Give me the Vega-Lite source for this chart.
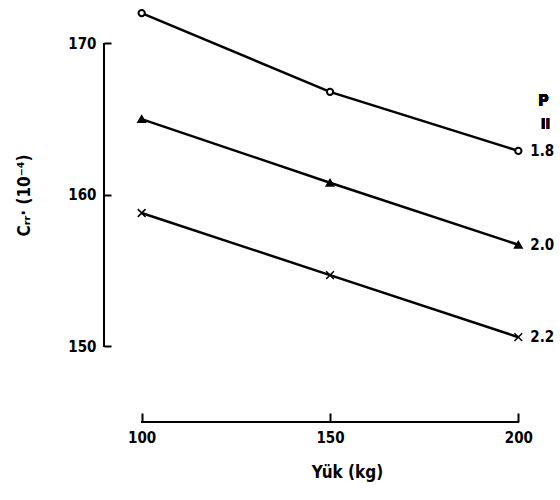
{
  "$schema": "https://vega.github.io/schema/vega-lite/v6.json",
  "autosize": {"type": "none"},
  "padding": {"left": 104, "top": 4, "right": 4, "bottom": 78},
  "width": 452,
  "height": 418,
  "background": "white",
  "config": {
    "view": {"stroke": null},
    "font": "DejaVu Sans Condensed",
    "axis": {"grid": false, "domain": false, "tickColor": "black", "tickWidth": 2, "labelColor": "black", "labelFont": "DejaVu Sans Condensed", "labelFontWeight": "bold", "labelFontSize": 15, "titleFont": "DejaVu Sans Condensed", "titleFontWeight": "bold", "titleFontSize": 17, "titleColor": "black"}
  },
  "data": {
    "values": [
      {"load": 100, "C": 172.0, "P": "1.8"},
      {"load": 150, "C": 166.8, "P": "1.8"},
      {"load": 200, "C": 162.9, "P": "1.8"},
      {"load": 100, "C": 165.0, "P": "2.0"},
      {"load": 150, "C": 160.8, "P": "2.0"},
      {"load": 200, "C": 156.7, "P": "2.0"},
      {"load": 100, "C": 158.8, "P": "2.2"},
      {"load": 150, "C": 154.7, "P": "2.2"},
      {"load": 200, "C": 150.6, "P": "2.2"}
    ]
  },
  "encoding": {
    "x": {"field": "load", "type": "quantitative", "scale": {"domain": [90, 210], "nice": false, "zero": false},
      "axis": {"values": [100, 150, 200], "offset": -9, "tickSize": 9, "labelPadding": 8, "title": "Yük (kg)", "titleX": 243, "titleY": 51}},
    "y": {"field": "C", "type": "quantitative", "scale": {"domain": [145, 172.6], "nice": false, "zero": false},
      "axis": {"values": [150, 160, 170], "offset": -7, "tickSize": 7, "labelPadding": 8, "title": "Cᵣᵣ· (10⁻⁴)", "titleX": -78, "titleY": 191}}
  },
  "layer": [
    {"mark": {"type": "rule", "color": "black", "strokeWidth": 2},
     "encoding": {"x": {"datum": 90}, "y": {"datum": 150}, "y2": {"datum": 170}}},
    {"mark": {"type": "rule", "color": "black", "strokeWidth": 2},
     "encoding": {"y": {"datum": 145}, "x": {"datum": 100}, "x2": {"datum": 200}}},
    {"mark": {"type": "line", "color": "black", "strokeWidth": 2.5},
     "encoding": {"detail": {"field": "P"}}},
    {"mark": {"type": "point", "stroke": "black", "opacity": 1},
     "encoding": {
       "shape": {"field": "P", "type": "nominal", "scale": {"domain": ["1.8", "2.0", "2.2"], "range": ["circle", "triangle-up", "M-1,-1L1,1M-1,1L1,-1"]}, "legend": null},
       "fill": {"field": "P", "type": "nominal", "scale": {"domain": ["1.8", "2.0", "2.2"], "range": ["white", "black", "black"]}, "legend": null},
       "size": {"field": "P", "type": "nominal", "scale": {"domain": ["1.8", "2.0", "2.2"], "range": [40, 60, 45]}, "legend": null},
       "strokeWidth": {"field": "P", "type": "nominal", "scale": {"domain": ["1.8", "2.0", "2.2"], "range": [2, 1.5, 3]}, "legend": null}
     }},
    {"transform": [{"filter": "datum.load == 200"}],
     "mark": {"type": "text", "align": "left", "dx": 12, "fontWeight": "bold", "fontSize": 15, "color": "black"},
     "encoding": {"text": {"field": "P"}}},
    {"mark": {"type": "text", "align": "center", "fontWeight": "bold", "fontSize": 16, "color": "black"},
     "encoding": {"x": {"datum": 206.6}, "y": {"datum": 166.2}, "text": {"value": "P"}}},
    {"mark": {"type": "text", "align": "center", "baseline": "middle", "angle": 90, "fontWeight": "bold", "fontSize": 19, "color": "black"},
     "encoding": {"x": {"datum": 207}, "y": {"datum": 164.7}, "text": {"value": "="}}}
  ]
}
